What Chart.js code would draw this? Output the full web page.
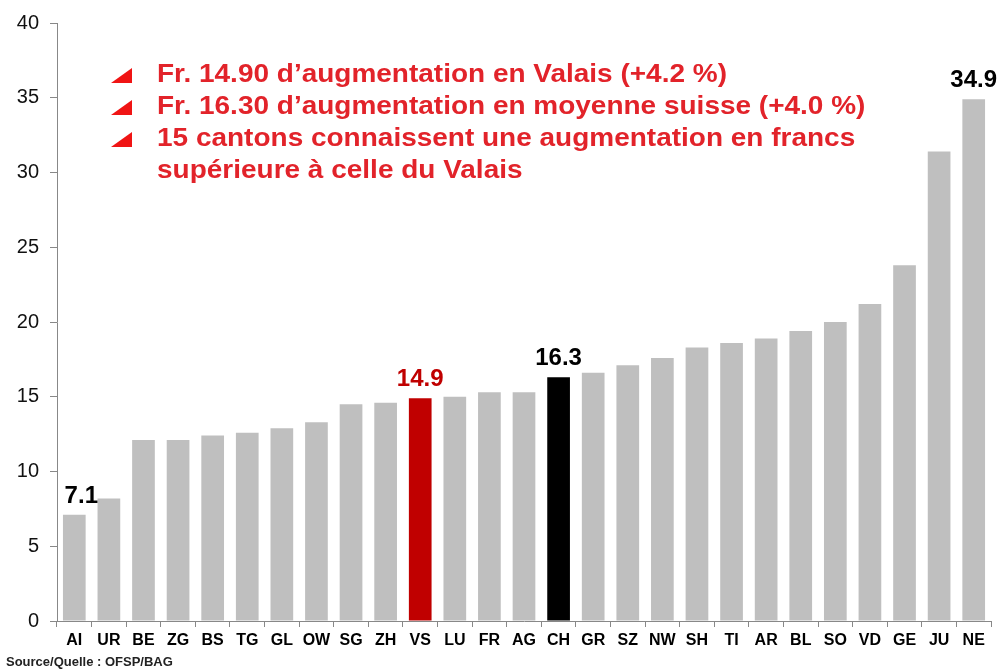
<!DOCTYPE html>
<html>
<head>
<meta charset="utf-8">
<script src="https://cdn.jsdelivr.net/npm/chart.js@4/dist/chart.umd.min.js"></script>
<style>
  html, body { margin: 0; padding: 0; background: #fff; }
  #wrap { width: 1002px; height: 671px; position: relative; }
</style>
</head>
<body>
<div id="wrap"><canvas id="chart"></canvas></div>
<script>
// cantons, sorted by increase (Fr.)
var cantons = ['AI','UR','BE','ZG','BS','TG','GL','OW','SG','ZH','VS','LU','FR','AG','CH',
               'GR','SZ','NW','SH','TI','AR','BL','SO','VD','GE','JU','NE'];
var increase = [7.1, 8.2, 12.1, 12.1, 12.4, 12.6, 12.9, 13.3, 14.5, 14.6, 14.9, 15.0, 15.3, 15.3, 16.3,
                16.6, 17.1, 17.6, 18.3, 18.6, 18.9, 19.4, 20.0, 21.2, 23.8, 31.4, 34.9];
var yTicks = [0, 5, 10, 15, 20, 25, 30, 35, 40];
var labelled = ['AI', 'VS', 'CH', 'NE'];

var notes = [
  'Fr. 14.90 d\u2019augmentation en Valais (+4.2 %)',
  'Fr. 16.30 d\u2019augmentation en moyenne suisse (+4.0 %)',
  '15 cantons connaissent une augmentation en francs',
  'sup\u00e9rieure \u00e0 celle du Valais'
];
var source = 'Source/Quelle : OFSP/BAG';

var GREY = '#bfbfbf', VS_RED = '#c00000', CH_BLACK = '#000000';
var barColors = cantons.map(function (c) {
  if (c === 'VS') return VS_RED;
  if (c === 'CH') return CH_BLACK;
  return GREY;
});

// value labels above a few bars
var valueLabels = {
  id: 'valueLabels',
  afterDatasetsDraw: function (chart) {
    var ctx = chart.ctx;
    var meta = chart.getDatasetMeta(0);
    ctx.save();
    ctx.font = 'bold 24px "Liberation Sans", Arial, sans-serif';
    ctx.textAlign = 'center';
    ctx.textBaseline = 'alphabetic';
    labelled.forEach(function (c) {
      var i = cantons.indexOf(c);
      var bar = meta.data[i];
      var dx = c === 'AI' ? 7 : 0;
      ctx.fillStyle = c === 'VS' ? VS_RED : '#000';
      ctx.fillText(increase[i].toFixed(1), bar.x + dx, bar.y - 12);
    });
    ctx.restore();
  }
};

// red bullet notes + source line
var notesPlugin = {
  id: 'notes',
  afterDraw: function (chart) {
    var ctx = chart.ctx;
    ctx.save();
    ctx.font = 'bold 26px "Liberation Sans Narrow", "Liberation Sans", Arial, sans-serif';
    // squeeze/stretch so the first line spans the same width as in the slide
    var sx = 570 / ctx.measureText(notes[0]).width;
    var baselines = [82, 114, 146, 178];
    notes.forEach(function (t, k) {
      if (k < 3) {
        var b = baselines[k];
        ctx.fillStyle = '#f01414';
        ctx.beginPath();
        ctx.moveTo(111, b + 1);
        ctx.lineTo(132, b + 1);
        ctx.lineTo(132, b - 14);
        ctx.closePath();
        ctx.fill();
      }
      ctx.save();
      ctx.translate(157, baselines[k]);
      ctx.scale(sx, 1);
      ctx.fillStyle = '#e2232a';
      ctx.fillText(t, 0, 0);
      ctx.restore();
    });
    ctx.font = 'bold 13px "Liberation Sans", Arial, sans-serif';
    ctx.fillStyle = '#222';
    ctx.textBaseline = 'middle';
    ctx.fillText(source, 6, 662);
    ctx.restore();
  }
};

var ctx = document.getElementById('chart').getContext('2d');
var chart = new Chart(ctx, {
  type: 'bar',
  data: {
    labels: cantons,
    datasets: [{
      data: increase,
      backgroundColor: barColors,
      borderWidth: 0,
      barPercentage: 0.656,
      categoryPercentage: 1.0
    }]
  },
  options: {
    responsive: true,
    maintainAspectRatio: false,
    animation: false,
    layout: { padding: { top: 20, right: 11, bottom: 0, left: 0 } },
    plugins: {
      legend: { display: false },
      tooltip: { enabled: false }
    },
    scales: {
      x: {
        afterFit: function (s) { s.height = 50; },
        grid: { display: true, drawOnChartArea: false, drawTicks: true, tickLength: 6, offset: true, color: '#888' },
        border: { color: '#888' },
        ticks: {
          color: '#000',
          padding: 4,
          maxRotation: 0,
          autoSkip: false,
          font: { family: '"Liberation Sans Narrow", "Liberation Sans", Arial, sans-serif', size: 16, weight: 'bold' }
        }
      },
      y: {
        min: yTicks[0],
        max: yTicks[yTicks.length - 1],
        afterFit: function (s) { s.width = 57; },
        afterBuildTicks: function (s) { s.ticks = yTicks.map(function (v) { return { value: v }; }); },
        grid: { drawOnChartArea: false, drawTicks: true, tickLength: 7, color: '#888' },
        border: { color: '#888' },
        ticks: {
          color: '#111',
          padding: 11,
          font: { family: '"Liberation Sans", Arial, sans-serif', size: 20 }
        }
      }
    }
  },
  plugins: [valueLabels, notesPlugin]
});
</script>
</body>
</html>
